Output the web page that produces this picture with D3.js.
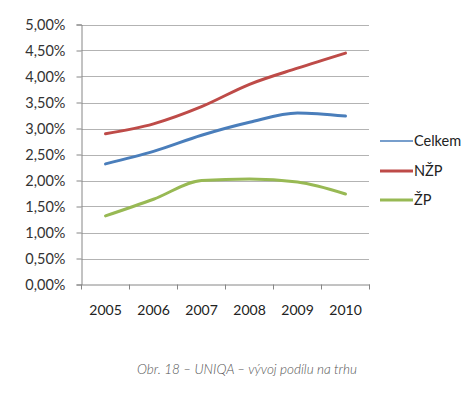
<!DOCTYPE html>
<html><head><meta charset="utf-8">
<script src="https://cdn.jsdelivr.net/npm/d3@7"></script>
<style>body{margin:0;background:#fff}svg{display:block}</style>
</head><body>
<svg id="c" width="474" height="398"></svg>
<script>
const years = ["2005","2006","2007","2008","2009","2010"];
const celkem = [2.32, 2.56, 2.87, 3.12, 3.30, 3.24];
const nzp = [2.90, 3.09, 3.42, 3.85, 4.16, 4.45];
const zp = [1.32, 1.64, 2.00, 2.03, 1.97, 1.74];
const yTicks = [0,0.5,1,1.5,2,2.5,3,3.5,4,4.5,5];
const seriesNames = ["Celkem","NŽP","ŽP"];
const colors = ["#4a7ebb","#be4b48","#98b954"];

const svg = d3.select("#c");
const font = "Lato, 'Open Sans', sans-serif";
const x = d3.scaleBand().domain(years).range([81.5, 369.5]);
const y = d3.scaleLinear().domain([0,5]).range([284.5, 24.5]);

// gridlines
svg.append("g").selectAll("line").data(yTicks.filter(d=>d>0)).join("line")
  .attr("x1",81.5).attr("x2",369).attr("y1",d=>Math.round(y(d))+0.5).attr("y2",d=>Math.round(y(d))+0.5)
  .attr("stroke","#b3b3b3").attr("stroke-width",1);

// y axis
const ya = svg.append("g").attr("transform","translate(81.5,0)")
  .call(d3.axisLeft(y).tickValues(yTicks).tickSize(5).tickPadding(10)
    .tickFormat(d=>d.toFixed(2).replace(".",",")+"%"));
ya.select(".domain").attr("stroke","#868686");
ya.selectAll(".tick line").attr("stroke","#868686");
ya.selectAll("text").attr("font-family",font).attr("font-size",14.5).attr("fill","#333").attr("dx","-1");

// x axis
const xa = svg.append("g").attr("transform","translate(0,284.5)")
  .call(d3.axisBottom(x).tickSizeOuter(0).tickSize(0));
xa.select(".domain").attr("stroke","#868686");
xa.selectAll(".tick text").attr("font-family",font).attr("font-size",14).attr("fill","#222").attr("y",21);
// boundary ticks
const bounds = years.map(d=>x(d)).concat([x(years[years.length-1])+x.bandwidth()]);
svg.append("g").selectAll("line").data(bounds).join("line")
  .attr("x1",d=>d).attr("x2",d=>d).attr("y1",284.5).attr("y2",289.5).attr("stroke","#868686");

const line = d3.line().x((d,i)=>x(years[i])+x.bandwidth()/2).y(d=>y(d)).curve(d3.curveMonotoneX);
[celkem,nzp,zp].forEach((s,k)=>{
  svg.append("path").attr("d",line(s)).attr("fill","none").attr("stroke",colors[k])
    .attr("stroke-width",3).attr("stroke-linecap","round");
});

// legend
const ly = [141,171,200];
seriesNames.forEach((n,k)=>{
  svg.append("line").attr("x1",380).attr("x2",413).attr("y1",ly[k]).attr("y2",ly[k])
    .attr("stroke",colors[k]).attr("stroke-width",k===0?1.5:3);
  svg.append("text").attr("x",414).attr("y",ly[k]).attr("dy","0.35em")
    .attr("font-family",font).attr("font-size",14.5).attr("fill","#222").text(n);
});

// caption
svg.append("text").attr("x",247).attr("y",374).attr("text-anchor","middle")
  .attr("font-family",font).attr("font-style","italic").attr("font-weight",300).attr("font-size",13.5).attr("fill","#555")
  .text("Obr. 18 – UNIQA – vývoj podílu na trhu");
</script>
</body></html>
